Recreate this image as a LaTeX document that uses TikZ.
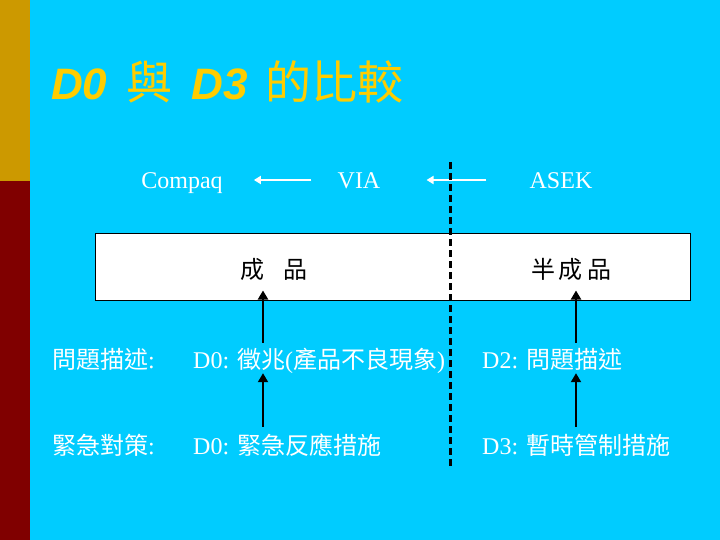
\documentclass[tikz,border=0pt]{standalone}
\usepackage{fontspec}
\setmainfont{Liberation Serif}
\setsansfont{Liberation Sans}
\newfontfamily\cjk{Noto Sans CJK TC}
\usetikzlibrary{arrows.meta}
\definecolor{slidebg}{HTML}{00CCFF}
\definecolor{bargold}{HTML}{CC9900}
\definecolor{barred}{HTML}{800000}
\definecolor{titleyellow}{HTML}{FFCC00}
\newcommand{\dsym}[1]{{\sffamily\bfseries\itshape #1}}
\newcommand{\bigcjk}[1]{{\cjk\fontsize{46bp}{50bp}\selectfont #1}}

\begin{document}
\begin{tikzpicture}[x=1bp, y=-1bp,
    txt/.style = {inner sep=0, text height=20bp, text depth=2bp, anchor=base,
                  font=\fontsize{24bp}{28bp}\selectfont},
    wtxt/.style = {txt, text=white},
    lefttxt/.style = {wtxt, anchor=base west},
    flow/.style = {white, line width=2bp, -{Triangle[length=7bp,width=8bp]}},
    uparrow/.style = {black, line width=2bp, -{Triangle[length=9bp,width=10bp]}},
    divider/.style = {line width=3bp, dash pattern=on 7bp off 4bp}]
    \fill[slidebg] (0,0) rectangle (720,540);
    \fill[bargold] (0,0) rectangle (30,181);
    \fill[barred] (0,181) rectangle (30,540);

    \node[anchor=base west, inner sep=0, text=titleyellow,
          font=\fontsize{44bp}{50bp}\selectfont] (title) at (51,100)
          {\dsym{D0}\hspace{19bp}\bigcjk{與}\hspace{19bp}\dsym{D3}\hspace{18bp}\bigcjk{的比較}};

    \node[wtxt] at (182,189) (compaq) {Compaq};
    \node[wtxt] at (359,189) (via) {VIA};
    \node[wtxt] at (561,189) (asek) {ASEK};

    \node[draw, fill=white, line width=1bp, minimum width=594bp, minimum height=66bp,
          inner sep=0] at (393,267) (prodbox) {};
    \node[txt] at (274,279) (finished) {\cjk 成\hspace{0.8em}品};
    \node[txt] at (571,279) (semi) {\cjk 半\,成\,品};

    \node[lefttxt] at (52,368) (qlabel) {{\cjk 問題描述}:};
    \node[lefttxt] at (52,454) (alabel) {{\cjk 緊急對策}:};
    \node[lefttxt] at (193,368) (d0sym) {D0: {\cjk 徵兆}({\cjk 產品不良現象})};
    \node[lefttxt] at (193,454) (d0act) {D0: {\cjk 緊急反應措施}};
    \node[lefttxt] at (482,368) (d2) {D2: {\cjk 問題描述}};
    \node[lefttxt] at (482,454) (d3) {D3: {\cjk 暫時管制措施}};

    \coordinate (colL) at (263,0);
    \coordinate (colR) at (576,0);
    \coordinate (cuttop) at (450,162);
    \coordinate (cutbot) at (450,468);

    \draw[flow, shorten <=26bp, shorten >=31bp] (via.west) -- (compaq.east);
    \draw[flow, shorten <=43bp, shorten >=46bp] (asek.west) -- (via.east);

    \draw[uparrow, shorten <=5bp, shorten >=-10bp] (d0sym.north -| colL) -- (prodbox.south -| colL);
    \draw[uparrow, shorten <=7bp, shorten >=3bp] (d0act.north -| colL) -- (d0sym.south -| colL);
    \draw[uparrow, shorten <=5bp, shorten >=-10bp] (d2.north -| colR) -- (prodbox.south -| colR);
    \draw[uparrow, shorten <=7bp, shorten >=3bp] (d3.north -| colR) -- (d2.south -| colR);

    \draw[divider] (cuttop) -- (cutbot);
\end{tikzpicture}
\end{document}
